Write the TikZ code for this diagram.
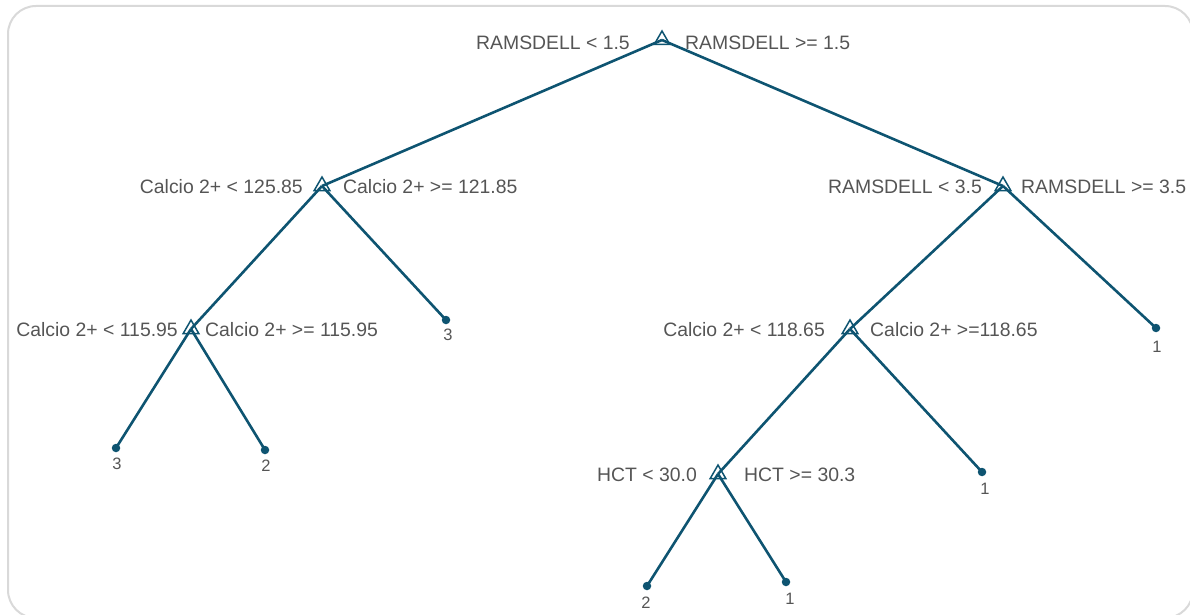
\documentclass[tikz,border=0pt]{standalone}
\usepackage{fontspec}
\setmainfont{Liberation Sans}
\usetikzlibrary{shapes.geometric}
\definecolor{edgec}{RGB}{14,84,113}
\definecolor{textc}{RGB}{85,85,85}
\definecolor{framec}{RGB}{217,217,217}
\tikzset{
  split/.style={regular polygon, regular polygon sides=3, draw=edgec, line width=1.5pt, minimum size=18pt, inner sep=0pt, outer sep=0pt},
  leaf/.style={circle, fill=edgec, minimum size=8.5pt, inner sep=0pt},
  edge/.style={draw=edgec, line width=2.6pt},
  lbl/.style={text=textc, font=\fontsize{19.4}{22}\selectfont, inner sep=0pt},
  leaflbl/.style={text=textc, font=\fontsize{16.5}{19}\selectfont, inner sep=0pt, anchor=base},
}
\begin{document}
\begin{tikzpicture}[x=1pt,y=-1pt]
\useasboundingbox (0,0) rectangle (1190,615);
\draw[framec, line width=2pt, rounded corners=28pt] (8,6) rectangle (1193,618);
% split nodes
\node[split] (R) at (662,40) {};
\node[split] (A) at (322,186) {};
\node[split] (B) at (1003,186) {};
\node[split] (C) at (191,329) {};
\node[split] (D) at (850,329) {};
\node[split] (E) at (718,474) {};
% leaves
\node[leaf] (L1) at (116,448) {};
\node[leaf] (L2) at (265,450) {};
\node[leaf] (L3) at (446,320) {};
\node[leaf] (L4) at (1156,328) {};
\node[leaf] (L5) at (982,472) {};
\node[leaf] (L6) at (647,586) {};
\node[leaf] (L7) at (786,582) {};
% edges
\draw[edge] (R.center) -- (A.center);
\draw[edge] (R.center) -- (B.center);
\draw[edge] (A.center) -- (C.center);
\draw[edge] (A.center) -- (L3.center);
\draw[edge] (C.center) -- (L1.center);
\draw[edge] (C.center) -- (L2.center);
\draw[edge] (B.center) -- (D.center);
\draw[edge] (B.center) -- (L4.center);
\draw[edge] (D.center) -- (E.center);
\draw[edge] (D.center) -- (L5.center);
\draw[edge] (E.center) -- (L6.center);
\draw[edge] (E.center) -- (L7.center);
% split labels
\node[lbl, anchor=base east] (Rl) at (630,49.5) {RAMSDELL < 1.5};
\node[lbl, anchor=base west] (Rr) at (685,49.5) {RAMSDELL >= 1.5};
\node[lbl, anchor=base east] (Al) at (303,193.5) {Calcio 2+ < 125.85};
\node[lbl, anchor=base west] (Ar) at (343,193.5) {Calcio 2+ >= 121.85};
\node[lbl, anchor=base east] (Bl) at (982,193.5) {RAMSDELL < 3.5};
\node[lbl, anchor=base west] (Br) at (1021,193.5) {RAMSDELL >= 3.5};
\node[lbl, anchor=base east] (Cl) at (178,336.5) {Calcio 2+ < 115.95};
\node[lbl, anchor=base west] (Cr) at (205,336.5) {Calcio 2+ >= 115.95};
\node[lbl, anchor=base east] (Dl) at (825,336.5) {Calcio 2+ < 118.65};
\node[lbl, anchor=base west] (Dr) at (870,336.5) {Calcio 2+ >=118.65};
\node[lbl, anchor=base east] (El) at (697,481.5) {HCT < 30.0};
\node[lbl, anchor=base west] (Er) at (744,481.5) {HCT >= 30.3};
% leaf labels
\node[leaflbl] at (117,469) {3};
\node[leaflbl] at (266,471) {2};
\node[leaflbl] at (448,340) {3};
\node[leaflbl] at (1157,352) {1};
\node[leaflbl] at (985,494) {1};
\node[leaflbl] at (646,608) {2};
\node[leaflbl] at (790,604) {1};
\end{tikzpicture}
\end{document}
